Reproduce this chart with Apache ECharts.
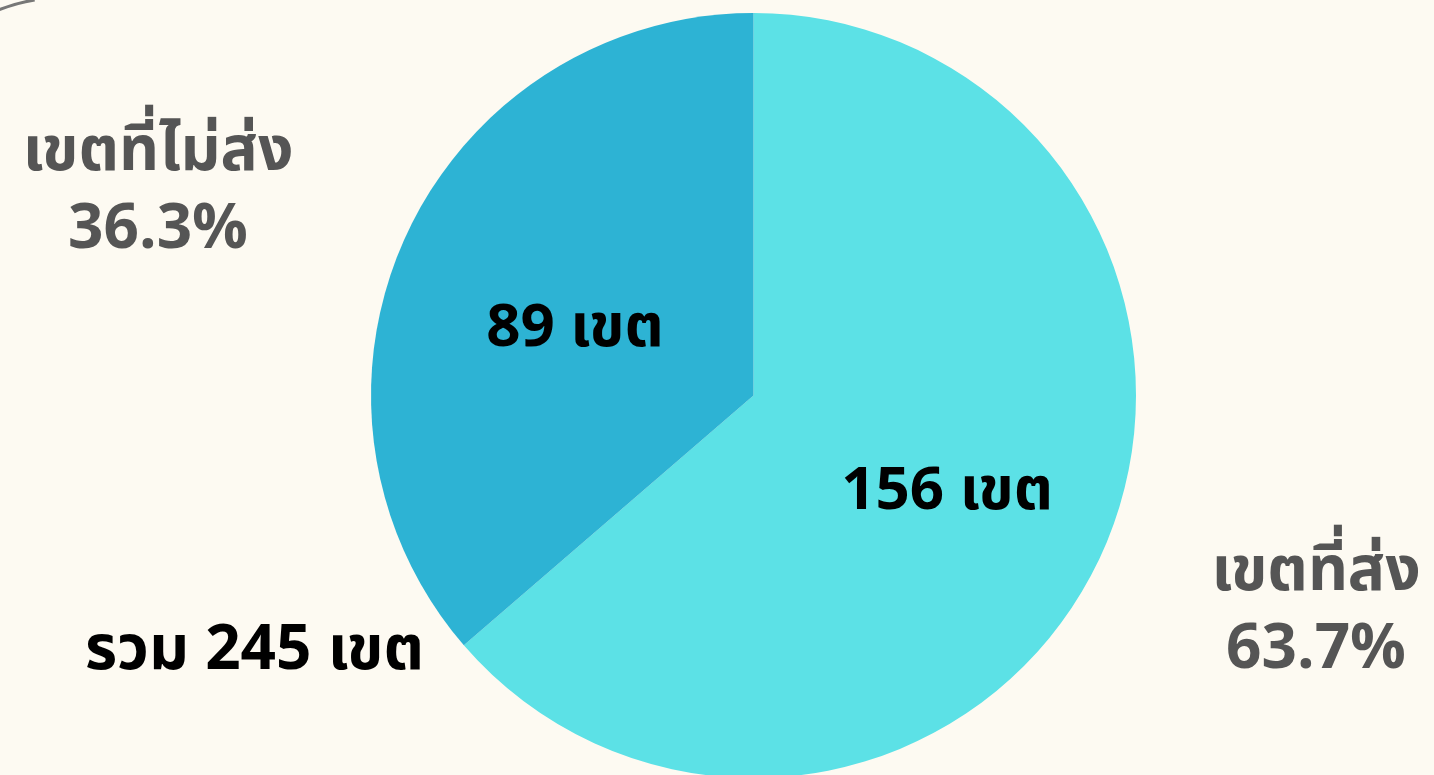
<!DOCTYPE html>
<html>
<head>
<meta charset="utf-8">
<script src="https://cdn.jsdelivr.net/npm/echarts@6/dist/echarts.min.js"></script>
<style>
html,body{margin:0;padding:0;background:#FDFAF2;}
#main{width:1434px;height:775px;}
</style>
</head>
<body>
<div id="main"></div>
<script>
const categories = ['เขตที่ส่ง', 'เขตที่ไม่ส่ง'];
const values = [156, 89];
const unit = 'เขต';
const totalLabel = 'รวม';
const colors = ['#5CE1E6', '#2DB3D4'];

const total = values.reduce((a, b) => a + b, 0);
const pct = values.map(v => (v / total * 100).toFixed(1) + '%');
const FONT = '"Noto Sans Thai", Kanit, Prompt, Sarabun, Loma, Garuda, "Tlwg Typo", "DejaVu Sans", "Liberation Sans", sans-serif';

const chart = echarts.init(document.getElementById('main'));
chart.setOption({
  backgroundColor: '#FDFAF2',
  animation: false,
  graphic: [
    { type: 'arc', shape: { cx: 60, cy: 160, r: 162, startAngle: -Math.PI * 0.72, endAngle: -Math.PI * 0.55 },
      style: { stroke: '#777', lineWidth: 3, fill: null } },
    { type: 'text', x: 158, y: 196,
      style: { text: categories[1] + '\n' + pct[1], fill: '#555555', font: 'bold 62px ' + FONT, align: 'center', verticalAlign: 'middle', lineHeight: 78 } },
    { type: 'text', x: 1316, y: 616,
      style: { text: categories[0] + '\n' + pct[0], fill: '#555555', font: 'bold 62px ' + FONT, align: 'center', verticalAlign: 'middle', lineHeight: 78 } },
    { type: 'text', x: 85, y: 656,
      style: { text: totalLabel + ' ' + total + ' ' + unit, fill: '#000', font: 'bold 62px ' + FONT, align: 'left', verticalAlign: 'middle' } }
  ],
  series: [{
    type: 'pie',
    center: [753.5, 395.5],
    radius: [0, 382.5],
    startAngle: 90,
    clockwise: true,
    silent: true,
    itemStyle: { borderWidth: 0 },
    label: {
      show: true,
      position: 'inside',
      formatter: p => p.value + ' ' + unit,
      color: '#000',
      fontWeight: 'bold',
      fontSize: 60,
      fontFamily: FONT
    },
    labelLine: { show: false },
    labelLayout: p => p.dataIndex === 0 ? { dx: 17, dy: 20 } : { dx: -2, dy: 19 },
    data: categories.map((c, i) => ({ name: c, value: values[i], itemStyle: { color: colors[i] } }))
  }]
});
</script>
</body>
</html>
